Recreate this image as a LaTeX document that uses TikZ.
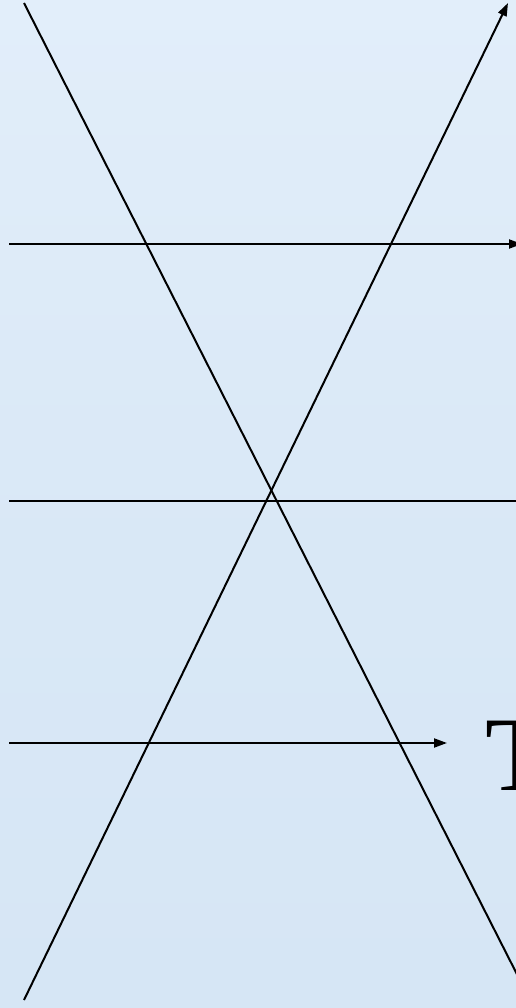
\documentclass[tikz,border=0pt]{standalone}
\usepackage{fontspec}
\setmainfont{Liberation Serif}
\usetikzlibrary{arrows.meta}
\definecolor{bgblue}{RGB}{214,230,245}
\definecolor{bglight}{RGB}{226,238,250}
\tikzset{
  ray/.style={line width=2pt, black},
  arr/.style={ray, -{Triangle[length=13pt,width=9pt]}},
}
\begin{document}
\begin{tikzpicture}[x=1pt,y=-1pt]
\useasboundingbox (0,0) rectangle (516,1008);
\clip (0,0) rectangle (516,1008);
\shade[top color=bglight, bottom color=bgblue, middle color=bgblue!70!bglight] (0,0) rectangle (516,1008);
% coordinates
\coordinate (aS) at (24,3);
\coordinate (aE) at (528,996);
\coordinate (bS) at (24,1000);
\coordinate (bE) at (508,3);
\coordinate (h1S) at (9,244);
\coordinate (h1E) at (522,244);
\coordinate (h2S) at (9,501);
\coordinate (h2E) at (520,501);
\coordinate (h3S) at (9,743);
\coordinate (h3E) at (447,743);
% lines
\draw[ray] (aS) -- (aE);
\draw[arr] (bS) -- (bE);
\draw[arr] (h1S) -- (h1E);
\draw[ray] (h2S) -- (h2E);
\draw[arr] (h3S) -- (h3E);
\node[anchor=base west, inner sep=0pt, font=\fontsize{106}{120}\selectfont] (T) at (485,790) {T};
\end{tikzpicture}
\end{document}
